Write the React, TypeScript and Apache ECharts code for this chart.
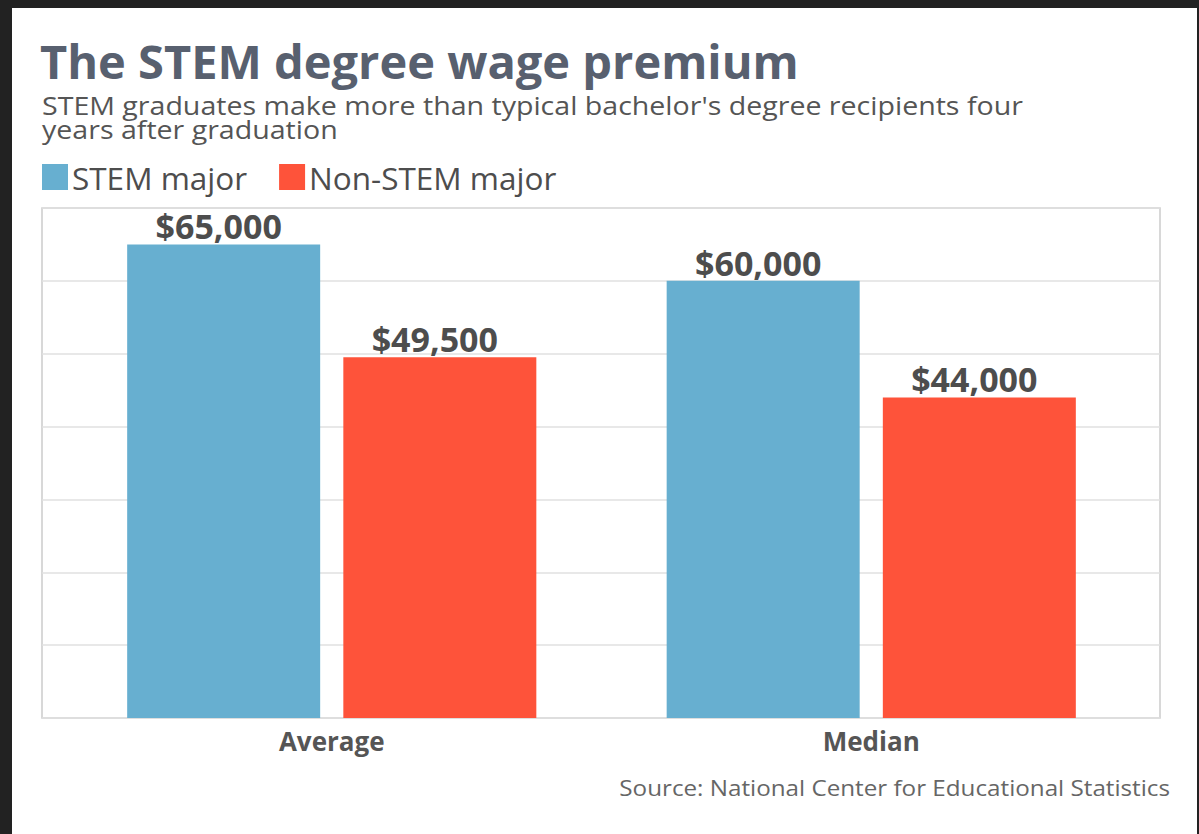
import React, { useEffect, useRef } from "react";
import * as echarts from "echarts";

const categories = ["Average", "Median"];
const stemValues = [65000, 60000];
const nonStemValues = [49500, 44000];
const seriesNames = ["STEM major", "Non-STEM major"];
const yMax = 70000;
const yInterval = 10000;

const titleText = "The STEM degree wage premium";
const subtitleLines = [
  "STEM graduates make more than typical bachelor's degree recipients four",
  "years after graduation",
];
const sourceText = "Source: National Center for Educational Statistics";

const fmt = (v: number) => "$" + v.toLocaleString("en-US");

export default function App() {
  const ref = useRef<HTMLDivElement>(null);
  useEffect(() => {
    if (!ref.current) return;
    const chart = echarts.init(ref.current, undefined, { renderer: "svg" });
    const font = "'Open Sans', 'Noto Sans', sans-serif";
    const valueLabel = {
      show: true,
      position: "top",
      distance: 1,
      offset: [-5, 0],
      formatter: (p: any) => fmt(p.value),
      fontFamily: font,
      fontSize: 34,
      fontWeight: "bold",
      color: "#4d4d4d",
    };
    chart.setOption({
      animation: false,
      backgroundColor: "#222222",
      textStyle: { fontFamily: font },
      graphic: [
        {
          type: "rect",
          shape: { x: 12, y: 8, width: 1185, height: 830 },
          style: { fill: "#ffffff" },
          z: -10,
          silent: true,
        },
        {
          type: "text",
          x: 40,
          y: 37,
          style: {
            x: 0,
            y: 0,
            text: titleText,
            fontFamily: font,
            fontSize: 47,
            fontWeight: "bold",
            fill: "#58606f",
            verticalAlign: "top",
          },
        },
        {
          type: "text",
          x: 42,
          y: 93,
          scaleX: 1.143,
          style: {
            x: 0,
            y: 0,
            text: subtitleLines.join("\n"),
            fontFamily: font,
            fontSize: 25,
            lineHeight: 24,
            fill: "#555555",
            verticalAlign: "top",
          },
        },
        {
          type: "text",
          x: 1170,
          y: 778,
          scaleX: 1.153,
          style: {
            x: 0,
            y: 0,
            text: sourceText,
            fontFamily: font,
            fontSize: 21,
            fill: "#666666",
            align: "right",
            verticalAlign: "top",
          },
        },
      ],
      legend: {
        left: 42,
        top: 161,
        padding: 0,
        icon: "rect",
        itemWidth: 26,
        itemHeight: 26,
        itemGap: 32,
        data: seriesNames,
        textStyle: { fontFamily: font, fontSize: 31.5, color: "#4d4d4d", padding: [0, 0, 0, -1] },
      },
      grid: [
        {
          left: 42,
          right: 39,
          top: 208,
          bottom: 116,
          show: true,
          borderColor: "#cccccc",
          borderWidth: 1.5,
        },
        { left: 62, right: 58, top: 208, bottom: 116 },
      ],
      xAxis: [
        { type: "value", gridIndex: 0, show: false, min: 0, max: 1 },
        {
          type: "category",
          gridIndex: 1,
          data: categories,
          axisLine: { show: false },
          axisTick: { show: false },
          axisLabel: {
            margin: 10,
            fontFamily: font,
            fontSize: 26,
            fontWeight: "bold",
            color: "#555555",
          },
        },
      ],
      yAxis: [
        {
          type: "value",
          gridIndex: 0,
          min: 0,
          max: yMax,
          interval: yInterval,
          axisLabel: { show: false },
          axisLine: { show: false },
          axisTick: { show: false },
          splitLine: { lineStyle: { color: "#e0e0e0", width: 1.5 } },
        },
        {
          type: "value",
          gridIndex: 1,
          min: 0,
          max: yMax,
          interval: yInterval,
          show: false,
          splitLine: { show: false },
        },
      ],
      series: [
        {
          name: seriesNames[0],
          type: "bar",
          xAxisIndex: 1,
          yAxisIndex: 1,
          data: stemValues,
          barWidth: 193,
          barGap: "12%",
          itemStyle: { color: "#67afd0" },
          label: valueLabel,
        },
        {
          name: seriesNames[1],
          type: "bar",
          xAxisIndex: 1,
          yAxisIndex: 1,
          data: nonStemValues,
          barWidth: 193,
          barGap: "12%",
          itemStyle: { color: "#fe533a" },
          label: valueLabel,
        },
      ],
    });
    return () => chart.dispose();
  }, []);
  return (
    <div style={{ position: "fixed", left: 0, top: 0, width: 1199, height: 834 }}>
      <div ref={ref} style={{ width: 1199, height: 834 }} />
    </div>
  );
}
